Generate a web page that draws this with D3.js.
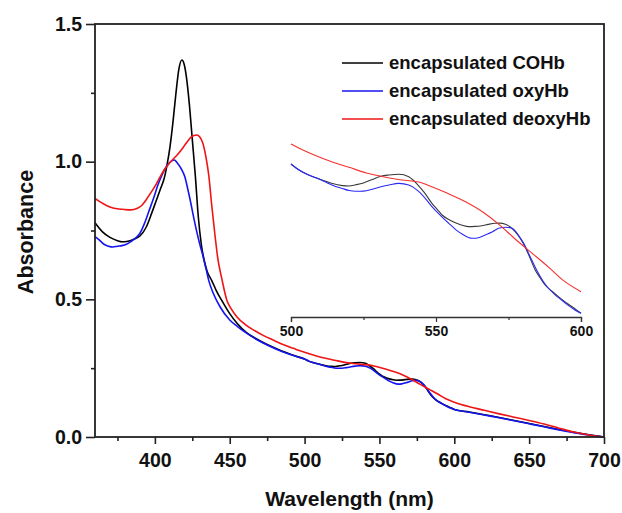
<!DOCTYPE html>
<html>
<head>
<meta charset="utf-8">
<script src="https://cdn.jsdelivr.net/npm/d3@7"></script>
<style>
  body { margin: 0; background: #fff; }
  svg text { font-family: "Liberation Sans", Arial, sans-serif; font-weight: bold; fill: #111; }
</style>
</head>
<body>
<div id="chart"></div>
<script>
// series data
const cohbNm = [360,365,370,375,378,382,386,390,394,398,401,404,406,408,410,412,414,416,418,419.5,421,423,425,427,429,431,433,435,438,441,445,450,455,461,468,475,482,488,494,
  500,502.8,505.5,508.6,511.4,514.3,517.7,520,522.3,525,528,531,533.8,537.2,540.6,542.5,544.1,546,548.6,550.5,552.1,554.4,556.7,559,561.3,563.5,565.8,568,570.4,572,573.9,575.5,577.3,579,580.7,582.5,584.2,586,587.6,590,592.2,594.5,596.8,600,
  610,620,630,640,650,660,670,680,690,700];
const cohbAbs = [0.778,0.745,0.725,0.713,0.709,0.711,0.718,0.730,0.760,0.815,0.860,0.905,0.935,0.985,1.050,1.140,1.245,1.335,1.369,1.355,1.310,1.210,1.080,0.950,0.800,0.700,0.640,0.600,0.568,0.532,0.493,0.448,0.412,0.380,0.356,0.336,0.319,0.306,0.294,
  0.283,0.2756,0.2705,0.266,0.2625,0.259,0.2565,0.256,0.2575,0.2598,0.264,0.268,0.2695,0.2704,0.2675,0.262,0.256,0.248,0.2348,0.227,0.2205,0.215,0.2111,0.208,0.2062,0.2065,0.2074,0.209,0.2103,0.2105,0.2091,0.206,0.200,0.192,0.1817,0.167,0.153,0.143,0.1347,0.127,0.1204,0.114,0.1084,0.100,
  0.091,0.081,0.071,0.060,0.049,0.038,0.027,0.017,0.008,0.000];

const oxyNm = [360,363,366,369,372,375,378,381,384,387,390,393,396,399,402,405,408,411,413,415,418,420,422,424,426,428,430,432,434,436,439,443.5,450,455,461,468,475,482,488,494,
  500,502.8,505.5,508.6,511.5,514.3,517.7,520,522.3,525,528,531,533.8,537.2,540.6,544.1,546.5,548.6,551.5,554.4,557,559,562.4,565,567,569.5,571.6,574,576.2,578.4,580.2,581.9,583.6,585.3,587,588.8,591,593.3,595.5,597.9,600,
  610,620,630,640,650,660,670,680,690,700];
const oxyAbs = [0.728,0.715,0.700,0.693,0.690,0.693,0.695,0.700,0.710,0.722,0.740,0.775,0.820,0.865,0.915,0.955,0.985,1.002,1.006,0.995,0.970,0.945,0.900,0.850,0.795,0.745,0.700,0.660,0.615,0.568,0.522,0.473,0.425,0.402,0.378,0.354,0.334,0.317,0.304,0.293,
  0.283,0.2756,0.2705,0.266,0.2615,0.257,0.253,0.2505,0.2495,0.2498,0.252,0.255,0.2573,0.2593,0.2573,0.2491,0.240,0.2307,0.220,0.2103,0.202,0.1972,0.1919,0.193,0.196,0.200,0.2042,0.2055,0.2042,0.196,0.186,0.1736,0.161,0.149,0.139,0.1307,0.123,0.1163,0.110,0.1041,0.100,
  0.090,0.080,0.070,0.059,0.048,0.037,0.026,0.016,0.007,0.000];

const deoxyNm = [360,364,368,372,376,380,384,388,391,394,397,400,403,406,409,412,415,418,421,424,426,428,430,432,434,436,438,440,442,444.7,448,451,454.7,460,465.8,472,479,486,492.5,497,
  500,503,508,514,520,526,531,537,545,549,554,560,566,572,577,583,589,594,600,
  610,620,630,640,650,660,670,680,690,700];
const deoxyAbs = [0.867,0.852,0.840,0.832,0.828,0.826,0.825,0.830,0.840,0.860,0.885,0.910,0.940,0.968,0.990,1.008,1.025,1.045,1.068,1.088,1.095,1.097,1.090,1.068,1.020,0.950,0.840,0.740,0.650,0.575,0.498,0.465,0.437,0.410,0.389,0.370,0.352,0.335,0.322,0.313,
  0.3075,0.302,0.294,0.2858,0.279,0.272,0.268,0.264,0.260,0.2545,0.247,0.237,0.2245,0.208,0.192,0.174,0.156,0.140,0.1265,
  0.110,0.097,0.084,0.072,0.060,0.047,0.032,0.018,0.007,0.000];

const seriesNames = ["encapsulated COHb", "encapsulated oxyHb", "encapsulated deoxyHb"];
const seriesColors = ["#000000", "#1414f0", "#f01414"];
const insetColors = ["#3a3a3a", "#2a2af5", "#f53030"];

const xTicks = [400, 450, 500, 550, 600, 650, 700];
const xMinor = [375, 425, 475, 525, 575, 625, 675];
const yTicks = [0, 0.5, 1.0, 1.5];
const yMinor = [0.25, 0.75, 1.25];
const insetTicks = [500, 550, 600];
const insetMinor = [525, 575];

const width = 622, height = 513;

const svg = d3.select("#chart")
  .append("svg")
    .attr("width", width)
    .attr("height", height);

const series = [
  d3.zip(cohbNm, cohbAbs),
  d3.zip(oxyNm, oxyAbs),
  d3.zip(deoxyNm, deoxyAbs)
];

// main scales
const x = d3.scaleLinear().domain([360, 700]).range([95, 604]);
const y = d3.scaleLinear().domain([0, 1.5]).range([437, 24]);

// curves
const line = d3.line()
  .x(d => x(d[0]))
  .y(d => y(d[1]))
  .curve(d3.curveMonotoneX);

svg.append("g")
  .selectAll("path")
  .data(series)
  .join("path")
    .attr("d", line)
    .attr("fill", "none")
    .attr("stroke", (d, i) => seriesColors[i])
    .attr("stroke-width", 1.6);

// frame
svg.append("rect")
  .attr("x", x.range()[0])
  .attr("y", y.range()[1])
  .attr("width", x.range()[1] - x.range()[0])
  .attr("height", y.range()[0] - y.range()[1])
  .attr("fill", "none")
  .attr("stroke", "#222")
  .attr("stroke-width", 1.8);

// bottom axis
const xAxis = svg.append("g")
  .attr("transform", `translate(0,${y.range()[0]})`)
  .call(d3.axisBottom(x).tickValues(xTicks).tickSize(7).tickPadding(9).tickFormat(d3.format("d")));
const xAxisMinor = svg.append("g")
  .attr("transform", `translate(0,${y.range()[0]})`)
  .call(d3.axisBottom(x).tickValues(xMinor).tickSize(4).tickFormat(""));

// left axis
const yAxis = svg.append("g")
  .attr("transform", `translate(${x.range()[0]},0)`)
  .call(d3.axisLeft(y).tickValues(yTicks).tickSize(9).tickPadding(4).tickFormat(d3.format(".1f")));
const yAxisMinor = svg.append("g")
  .attr("transform", `translate(${x.range()[0]},0)`)
  .call(d3.axisLeft(y).tickValues(yMinor).tickSize(4).tickFormat(""));

[xAxis, xAxisMinor, yAxis, yAxisMinor].forEach(g => {
  g.select(".domain").remove();
  g.selectAll(".tick line").attr("stroke", "#222").attr("stroke-width", 1.6);
  g.selectAll(".tick text")
    .style("font-size", "19.5px")
    .style("font-family", "'Liberation Sans', Arial, sans-serif")
    .style("font-weight", "bold")
    .attr("fill", "#111");
});

// axis titles
svg.append("text")
  .attr("x", (x.range()[0] + x.range()[1]) / 2)
  .attr("y", 506)
  .attr("text-anchor", "middle")
  .style("font-size", "21px")
  .text("Wavelength (nm)");

svg.append("text")
  .attr("transform", "rotate(-90)")
  .attr("x", -232)
  .attr("y", 33)
  .attr("text-anchor", "middle")
  .style("font-size", "21.5px")
  .text("Absorbance");

// legend
const legend = svg.append("g")
  .attr("transform", "translate(342,63)");

const legendItems = legend.selectAll(".legend-item")
  .data(seriesNames)
  .join("g")
    .attr("class", "legend-item")
    .attr("transform", (d, i) => `translate(0,${i * 28})`);

legendItems.append("line")
  .attr("x1", 0)
  .attr("x2", 41)
  .attr("stroke", (d, i) => seriesColors[i])
  .attr("stroke-width", 1.6);

legendItems.append("text")
  .attr("x", 47)
  .attr("dy", "0.35em")
  .style("font-size", "18.5px")
  .text(d => d);

// inset
const ix = d3.scaleLinear().domain([500, 600]).range([291, 581]);
const iy = d3.scaleLinear().domain([0.1, 0.32]).range([313.3, 133.8]);

const insetLine = d3.line()
  .x(d => ix(d[0]))
  .y(d => iy(d[1]))
  .curve(d3.curveMonotoneX);

svg.append("g")
  .selectAll("path")
  .data(series.map(s => s.filter(d => d[0] >= 500 && d[0] <= 600)))
  .join("path")
    .attr("d", insetLine)
    .attr("fill", "none")
    .attr("stroke", (d, i) => insetColors[i])
    .attr("stroke-width", 1.1);

const insetAxis = svg.append("g")
  .attr("transform", "translate(0,317)")
  .call(d3.axisBottom(ix).tickValues(insetTicks).tickSize(5).tickPadding(4).tickFormat(d3.format("d")));
const insetAxisMinor = svg.append("g")
  .attr("transform", "translate(0,317)")
  .call(d3.axisBottom(ix).tickValues(insetMinor).tickSize(3).tickFormat(""));

insetAxis.select(".domain").attr("stroke", "#333").attr("stroke-width", 1.3);
insetAxisMinor.select(".domain").remove();
[insetAxis, insetAxisMinor].forEach(g => {
  g.selectAll(".tick line").attr("stroke", "#333").attr("stroke-width", 1.2);
});
insetAxis.selectAll(".tick text")
  .style("font-size", "14px")
  .style("font-family", "'Liberation Sans Narrow', 'Arial Narrow', 'Liberation Sans', sans-serif")
  .style("font-weight", "bold")
  .attr("fill", "#222");
</script>
</body>
</html>
